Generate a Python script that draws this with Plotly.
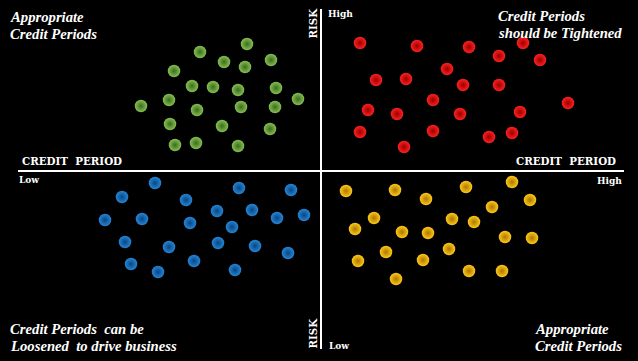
import plotly.graph_objects as go

# Data (x: credit period, y: risk) centred on the quadrant crossing
green_x = [-12.1, -7.4, -9.7, -7.6, -5.0, -14.7, -12.9, -10.8, -8.3, -4.5, -2.3, -18.0, -15.2, -12.4, -8.0, -4.6, -15.1, -9.9, -5.1, -14.6, -12.5, -8.3]
green_y = [11.9, 12.7, 10.9, 10.4, 11.1, 10.0, 8.5, 8.4, 8.1, 8.3, 7.2, 6.5, 7.1, 6.1, 6.4, 6.4, 4.7, 4.5, 4.2, 2.6, 2.8, 2.5]

red_x = [3.9, 9.6, 14.8, 20.2, 17.8, 21.9, 12.6, 5.5, 8.5, 14.2, 17.8, 11.2, 4.7, 7.6, 13.9, 19.9, 24.7, 3.9, 11.2, 16.8, 19.1, 8.3]
red_y = [12.8, 12.5, 12.4, 12.8, 11.5, 11.1, 10.2, 9.1, 9.2, 8.6, 8.6, 7.1, 6.1, 5.7, 5.7, 5.9, 6.8, 3.9, 4.0, 3.4, 3.8, 2.4]

blue_x = [-16.6, -19.9, -13.5, -8.2, -3.0, -10.4, -6.9, -21.6, -17.9, -13.1, -8.9, -4.4, -1.7, -19.6, -15.2, -10.3, -6.6, -3.3, -19.0, -16.3, -12.7, -8.6]
blue_y = [-1.2, -2.6, -2.9, -1.7, -1.9, -4.0, -3.9, -4.9, -4.8, -5.2, -5.6, -4.7, -4.4, -7.1, -7.6, -7.2, -7.5, -8.2, -9.3, -10.1, -9.0, -9.9]

yellow_x = [2.5, 7.4, 14.5, 19.1, 10.5, 17.1, 20.9, 5.3, 3.4, 8.1, 10.7, 13.1, 15.3, 18.4, 21.1, 6.5, 12.8, 3.7, 10.2, 7.5, 14.8, 18.1]
yellow_y = [-2.0, -1.9, -1.6, -1.1, -2.8, -3.6, -2.9, -4.7, -5.8, -6.1, -6.2, -4.8, -5.1, -6.6, -6.7, -8.1, -7.8, -9.0, -8.9, -10.8, -10.0, -10.0]

quadrant_labels = [
    ["Appropriate", "Credit Periods"],
    ["Credit Periods", "should be Tightened"],
    ["Credit Periods  can be", "Loosened  to drive business"],
    ["Appropriate", "Credit Periods"],
]
axis_title = "CREDIT  PERIOD"
risk_title = "RISK"
low_label, high_label = "Low", "High"

W, H = 638, 361

fig = go.Figure()

def add_dots(xs, ys, inner, outer):
    fig.add_trace(go.Scatter(
        x=xs, y=ys, mode="markers", hoverinfo="skip",
        marker=dict(size=12.5, color=inner, line=dict(width=0),
                    gradient=dict(type="radial", color=outer)),
    ))

add_dots(green_x, green_y, "#86c052", "#3c6a1f")
add_dots(red_x, red_y, "#ff2020", "#9a0000")
add_dots(blue_x, blue_y, "#2586d6", "#0a4580")
add_dots(yellow_x, yellow_y, "#ffc81a", "#aa7800")

# quadrant axes
fig.add_shape(type="line", x0=-30.3, x1=30.3, y0=0, y1=0, line=dict(color="white", width=2))
fig.add_shape(type="line", x0=0, x1=0, y0=16.2, y1=-17.8, line=dict(color="white", width=2))

def px(x):
    return x / W

def py(y):
    return 1 - y / H

anns = []
big = dict(family="Liberation Serif", size=14.7, color="white")
small = dict(family="DejaVu Serif", size=9, color="white")
title_f = dict(family="DejaVu Serif", size=10.3, color="white")

def ann(text, x, y, xa, ya, font, align="left", angle=0):
    anns.append(dict(text=text, x=px(x), y=py(y), xref="paper", yref="paper",
                     xanchor=xa, yanchor=ya, showarrow=False, font=font,
                     align=align, textangle=angle, borderpad=0))

def bi(t):
    return "<b><i>" + t + "</i></b>"

pos = [(9, 16.5, 33.5), (497, 16, 32.5), (9, 328.5, 345.5), (534, 328.5, 345.5)]
for lines, (x, y1, y2) in zip(quadrant_labels, pos):
    ann(bi(lines[0]), x, y1, "left", "middle", big)
    ann(bi(lines[1]), x, y2, "left", "middle", big)

ann("<b>" + axis_title + "</b>", 21, 161, "left", "middle", title_f)
ann("<b>" + axis_title + "</b>", 617, 161, "right", "middle", title_f)
ann("<b>" + low_label + "</b>", 18, 180, "left", "middle", small)
ann("<b>" + high_label + "</b>", 623, 180.5, "right", "middle", small)
ann("<b>" + high_label + "</b>", 327, 14, "left", "middle", small)
ann("<b>" + low_label + "</b>", 328, 346, "left", "middle", small)
ann("<b>" + risk_title + "</b>", 312, 23.5, "center", "middle", title_f, angle=-90)
ann("<b>" + risk_title + "</b>", 312, 333.5, "center", "middle", title_f, angle=-90)

fig.update_layout(
    width=W, height=H, margin=dict(l=0, r=0, t=0, b=0),
    paper_bgcolor="black", plot_bgcolor="black", showlegend=False,
    xaxis=dict(range=[-32.1, 31.7], visible=False, fixedrange=True),
    yaxis=dict(range=[-19.0, 17.1], visible=False, fixedrange=True),
    annotations=anns,
)

fig.write_html("out.html", config={"displayModeBar": False})
